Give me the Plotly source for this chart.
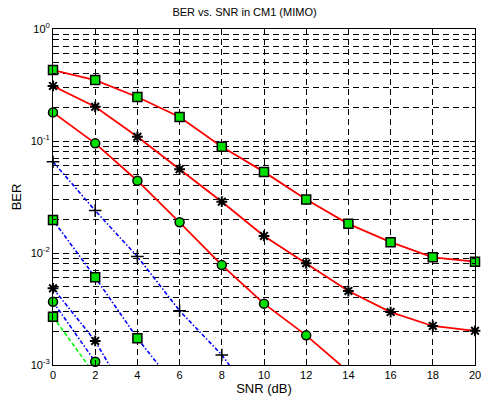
import plotly.graph_objects as go

snr = [0, 2, 4, 6, 8, 10, 12, 14, 16, 18, 20]

# red solid series
ber_red_sq = [0.43, 0.35, 0.247, 0.164, 0.089, 0.053, 0.030, 0.0182, 0.0125, 0.00915, 0.00836]
ber_red_star = [0.31, 0.202, 0.109, 0.056, 0.0287, 0.0142, 0.0081, 0.00458, 0.00297, 0.00223, 0.00202]
snr_red_circ = [0, 2, 4, 6, 8, 10, 12, 14]
ber_red_circ = [0.18, 0.0953, 0.0442, 0.0188, 0.0078, 0.00353, 0.00184, 0.00087]

# blue dash-dot series
snr_blue_plus = [0, 2, 4, 6, 8, 10]
ber_blue_plus = [0.0653, 0.0239, 0.0093, 0.00305, 0.00123, 0.00038]
snr_blue_sq = [0, 2, 4, 6]
ber_blue_sq = [0.0197, 0.00607, 0.00173, 0.00058]
snr_blue_star = [0, 2, 4]
ber_blue_star = [0.00484, 0.00164, 0.00037]
snr_blue_circ = [0, 2, 4]
ber_blue_circ = [0.00367, 0.00107, 0.0002]

# green dashed series
snr_green_sq = [0, 2]
ber_green_sq = [0.0027, 0.00081]

x_ticks = [0, 2, 4, 6, 8, 10, 12, 14, 16, 18, 20]
y_tickvals = [1e-3, 1e-2, 1e-1, 1]
y_ticktext = ["10<sup>-3</sup>", "10<sup>-2</sup>", "10<sup>-1</sup>", "10<sup>0</sup>"]
Y_MIN = 1e-3

RED = "#ff0000"
BLUE = "#0000ff"
GREEN = "#00ff00"
MGREEN = "#00e000"

sq = dict(symbol="square", size=9, color=MGREEN, line=dict(color="black", width=1.5))
circ = dict(symbol="circle", size=9, color=MGREEN, line=dict(color="black", width=1.5))
star = dict(symbol="asterisk", size=9, color="black", line=dict(color="black", width=2))
plus = dict(symbol="cross-thin", size=9, color="black", line=dict(color="black", width=1.5))

DASHDOT = "4px,2px,1.5px,2px"
DASHED = "4px,2.5px"

fig = go.Figure()

def add(x, y, color, dash, marker, width=1.8):
    fig.add_trace(go.Scatter(x=x, y=y, mode="lines",
                             line=dict(color=color, width=width, dash=dash),
                             showlegend=False))
    mx = [a for a, b in zip(x, y) if b >= Y_MIN * 0.97]
    my = [b for b in y if b >= Y_MIN * 0.97]
    fig.add_trace(go.Scatter(x=mx, y=my, mode="markers", marker=marker,
                             cliponaxis=False, showlegend=False))

add(snr, ber_red_sq, RED, "solid", sq)
add(snr, ber_red_star, RED, "solid", star)
add(snr_red_circ, ber_red_circ, RED, "solid", circ)
add(snr_blue_plus, ber_blue_plus, BLUE, DASHDOT, plus, 1.6)
add(snr_blue_sq, ber_blue_sq, BLUE, DASHDOT, sq, 1.6)
add(snr_blue_star, ber_blue_star, BLUE, DASHDOT, star, 1.6)
add(snr_blue_circ, ber_blue_circ, BLUE, DASHDOT, circ, 1.6)
add(snr_green_sq, ber_green_sq, GREEN, DASHED, sq, 1.6)

font = dict(family="Liberation Sans, Arial, sans-serif", size=11, color="black")
GDASH = "6px,4px"

fig.update_layout(
    width=489, height=402,
    margin=dict(l=53, r=8, t=29, b=37),
    paper_bgcolor="white", plot_bgcolor="white",
    font=font,
    title=dict(text="BER vs. SNR in CM1 (MIMO)", x=0.5, xanchor="center",
               y=1 - 12 / 402, yanchor="middle", font=dict(size=11)),
    showlegend=False,
)
fig.update_xaxes(
    range=[0, 20], tickvals=x_ticks, ticks="inside", ticklen=5, tickcolor="black",
    showline=True, linecolor="black", linewidth=1, mirror="ticks",
    showgrid=True, gridcolor="black", gridwidth=1, griddash=GDASH,
    zeroline=False, title=dict(text="SNR (dB)", standoff=2), tickfont=font,
)
fig.update_yaxes(
    type="log", range=[-3, 0], tickvals=y_tickvals, ticktext=y_ticktext,
    ticks="inside", ticklen=5, tickcolor="black",
    showline=True, linecolor="black", linewidth=1, mirror="ticks",
    showgrid=True, gridcolor="black", gridwidth=1, griddash=GDASH,
    minor=dict(showgrid=True, gridcolor="black", gridwidth=1, griddash=GDASH,
               ticks="inside", ticklen=3, tickcolor="black", dtick="D1"),
    zeroline=False, title=dict(text="BER", standoff=6), tickfont=font,
)

fig.write_html("out.html")
